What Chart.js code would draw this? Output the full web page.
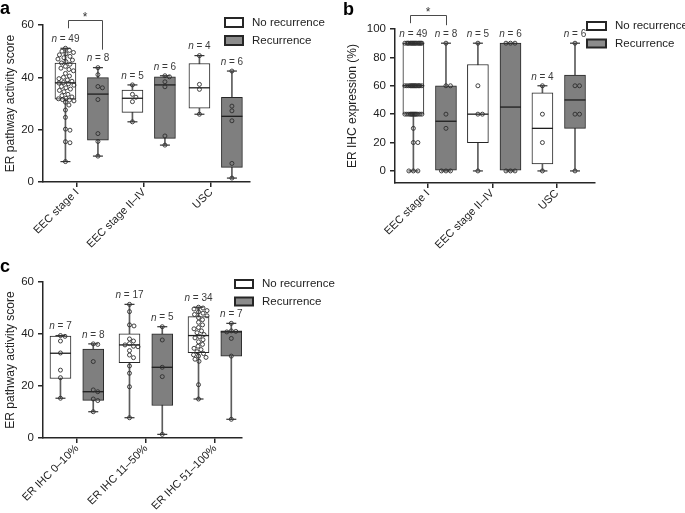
<!DOCTYPE html>
<html><head><meta charset="utf-8">
<script src="https://cdn.jsdelivr.net/npm/chart.js@4.4.1/dist/chart.umd.min.js"></script>
<style>
html,body{margin:0;padding:0;background:#fff;width:685px;height:513px;overflow:hidden;position:relative;}
canvas{position:absolute;}
</style></head><body>
<canvas id="ca" width="345" height="255" style="left:0;top:0"></canvas>
<canvas id="cb" width="345" height="262" style="left:340px;top:0"></canvas>
<canvas id="cc" width="345" height="258" style="left:0;top:255px"></canvas>
<script>
// ---------------- DATA ----------------
const seriesNames = ['No recurrence', 'Recurrence'];
const categoriesAB = ['EEC stage I', 'EEC stage II\u2013IV', 'USC'];
const categoriesC = ['ER IHC 0\u201310%', 'ER IHC 11\u201350%', 'ER IHC 51\u2013100%'];
const yTicksAC = [0, 20, 40, 60];
const yTicksB = [0, 20, 40, 60, 80, 100];
const yTitleAC = 'ER pathway activity score';
const yTitleB = 'ER IHC expression (%)';

// box stats per category: [min, q1, median, q3, max]
// Panel a
const boxA_noRec = [[7.8, 31.7, 37.9, 45.4, 51.1], [23.0, 26.6, 32.0, 35.1, 37.1], [25.9, 28.2, 36.0, 45.3, 48.3]];
const boxA_rec   = [[9.9, 16.0, 33.6, 39.9, 43.7], [14.1, 16.7, 37.1, 40.2, 40.6], [1.5, 5.6, 25.1, 32.4, 42.4]];
const nA_noRec = [49, 5, 4];
const nA_rec = [8, 6, 6];
const ptsA_noRec = [
  [51.1, 50.3, 50.0, 49.5, 49.0, 48.6, 48.0, 47.5, 47.0, 46.6, 46.0, 45.5,
   45.0, 44.2, 43.5, 43.0, 42.5, 41.5, 40.5, 40.0, 39.5, 39.0, 38.5, 38.0,
   37.8,
   37.5, 37.0, 36.5, 36.0, 35.5, 35.0, 34.5, 33.5, 33.0, 32.5, 32.0, 31.8,
   31.5, 31.3, 31.0, 30.5, 29.4, 27.5, 24.7, 20.2, 19.8, 15.4, 15.0, 7.8],
  [37.1, 33.5, 32.4, 30.7, 23.0],
  [48.3, 37.3, 35.4, 25.9]
];
const ptsA_rec = [
  [43.7, 41.0, 36.5, 36.0, 31.5, 18.5, 15.5, 9.9],
  [40.6, 40.2, 38.3, 36.4, 17.6, 14.1],
  [42.4, 29.0, 27.2, 23.4, 7.1, 1.5]
];

// Panel b
const boxB_noRec = [[0, 40, 60, 90, 90], [0, 20, 40, 75, 90], [0, 5, 30, 55, 60]];
const boxB_rec   = [[0, 0, 35, 60, 90], [0, 0, 45, 90, 90], [0, 30, 50, 67.5, 90]];
const nB_noRec = [49, 5, 4];
const nB_rec = [8, 6, 6];
const ptsB_noRec = [
  [90, 90, 90, 90, 90, 90, 90, 90, 90, 90, 90, 90, 90, 90, 90, 90,
   60, 60, 60, 60, 60, 60, 60, 60, 60, 60, 60, 60, 60, 60,
   40, 40, 40, 40, 40, 40, 40, 40, 40, 40, 40, 40, 40,
   30, 20, 20, 0, 0, 0],
  [90, 60, 40, 40, 0],
  [60, 40, 20, 0]
];
const ptsB_rec = [
  [90, 60, 60, 40, 30, 0, 0, 0],
  [90, 90, 90, 0, 0, 0],
  [90, 60, 60, 40, 40, 0]
];

// Panel c
const boxC_noRec = [[15.3, 22.9, 32.6, 39.2, 39.4], [7.8, 29.0, 35.8, 40.1, 51.4], [15.0, 32.8, 39.4, 46.7, 50.3]];
const boxC_rec   = [[10.1, 14.5, 17.8, 34.2, 36.2], [1.4, 12.5, 27.2, 40.1, 42.8], [7.2, 31.5, 40.8, 41.2, 44.1]];
const nC_noRec = [7, 17, 34];
const nC_rec = [8, 5, 7];
const ptsC_noRec = [
  [39.4, 39.1, 37.3, 32.7, 26.1, 23.2, 15.3],
  [51.4, 48.6, 43.5, 43.1, 38.1, 37.3, 36.3, 35.8, 35.3, 35.1, 33.6, 31.9, 30.9, 27.7, 24.9, 19.7, 7.8],
  [50.3, 50.0, 49.6, 49.0, 48.5, 48.0, 47.5, 47.0,
   46.3, 45.5, 44.5, 43.5, 42.5, 42.0, 41.2, 40.5, 39.8,
   39.0, 38.5, 37.8, 37.0, 36.0, 35.3, 34.5, 34.0, 33.2,
   32.5, 32.0, 31.5, 31.0, 30.3, 29.5, 20.5, 15.0]
];
const ptsC_rec = [
  [36.2, 36.0, 29.4, 18.5, 17.8, 15.0, 14.4, 10.1],
  [42.8, 37.7, 27.2, 23.6, 1.4],
  [44.1, 41.2, 41.0, 40.8, 38.3, 31.5, 7.2]
];

// ---------------- RENDERING ----------------
const FONT = "'Liberation Sans', Arial, Helvetica, sans-serif";
Chart.defaults.font.family = FONT;
Chart.defaults.color = '#222';
const FILLS = ['#ffffff', '#7f7f7f'];
const INK = '#262626';

const decor = {
  id: 'decor',
  afterDatasetsDraw(chart, args, o) {
    const ctx = chart.ctx, xs = chart.scales.x, ys = chart.scales.y;
    ctx.save();
    const labelY = (si, i) => ys.getPixelForValue(o.series[si].stats[i][4]) - 9;
    const cx = (si, i) => xs.getPixelForValue(i + 1 + o.offsets[si]);
    // n labels
    o.series.forEach((s, si) => {
      s.n.forEach((n, i) => {
        const x = cx(si, i), y = labelY(si, i);
        ctx.textBaseline = 'middle';
        ctx.fillStyle = '#3a3a3a';
        ctx.font = 'italic 10px ' + FONT;
        const w1 = ctx.measureText('n').width;
        ctx.font = '10px ' + FONT;
        const t2 = ' = ' + n;
        const w2 = ctx.measureText(t2).width;
        const x0 = x - (w1 + w2) / 2;
        ctx.textAlign = 'left';
        ctx.font = 'italic 10px ' + FONT;
        ctx.fillText('n', x0, y);
        ctx.font = '10px ' + FONT;
        ctx.fillText(t2, x0 + w1, y);
      });
    });
    // significance bracket
    if (o.sig) {
      const i = o.sig.cat;
      const x1 = cx(0, i) + o.sig.dx[0], x2 = cx(1, i) + o.sig.dx[1];
      const yL = labelY(0, i) - 11, yR = labelY(1, i) - 9;
      const top = Math.min(yL, yR) - 8;
      ctx.strokeStyle = '#4a4a4a';
      ctx.lineWidth = 1;
      ctx.beginPath();
      ctx.moveTo(Math.round(x1) + 0.5, yL);
      ctx.lineTo(Math.round(x1) + 0.5, Math.round(top) + 0.5);
      ctx.lineTo(Math.round(x2) + 0.5, Math.round(top) + 0.5);
      ctx.lineTo(Math.round(x2) + 0.5, yR);
      ctx.stroke();
      ctx.fillStyle = '#333';
      ctx.font = '12px ' + FONT;
      ctx.textAlign = 'center';
      ctx.textBaseline = 'alphabetic';
      ctx.fillText(o.sig.label, (x1 + x2) / 2, top + 1);
    }
    // legend
    const L = o.legend;
    seriesNames.forEach((name, si) => {
      const y = L.y + si * L.dy;
      ctx.fillStyle = FILLS[si] === '#ffffff' ? '#ffffff' : '#8c8c8c';
      ctx.fillRect(L.x, y, L.w, L.h);
      ctx.strokeStyle = INK;
      ctx.lineWidth = 2;
      ctx.strokeRect(L.x, y, L.w, L.h);
      ctx.fillStyle = '#222';
      ctx.font = '11.5px ' + FONT;
      ctx.textAlign = 'left';
      ctx.textBaseline = 'middle';
      ctx.fillText(name, L.x + L.w + 9, y + L.h / 2);
    });
    // panel letter
    ctx.fillStyle = '#000';
    ctx.font = 'bold 18px ' + FONT;
    ctx.textAlign = 'left';
    ctx.textBaseline = 'alphabetic';
    ctx.fillText(o.letter, o.letterPos[0], o.letterPos[1]);
    ctx.restore();
  }
};

function applyJitter(chart, maxOff) {
  const xs = chart.scales.x, ys = chart.scales.y;
  const ppx = xs.getPixelForValue(2) - xs.getPixelForValue(1);
  chart.data.datasets.forEach(d => {
    if (!d.isPoints) return;
    const groups = {};
    d.data.forEach(p => { (groups[p.bx] = groups[p.bx] || []).push(p); });
    Object.values(groups).forEach(g => {
      const placed = [];
      g.forEach(p => {
        const py = ys.getPixelForValue(p.y);
        let best = 0, bestScore = -1;
        for (let k = 0; k <= maxOff * 4; k++) {
          const o = (k % 2 ? 1 : -1) * Math.ceil(k / 2) * 0.5;
          let md = Infinity;
          placed.forEach(q => { md = Math.min(md, Math.hypot(o - q.o, py - q.py)); });
          if (md >= 4.4) { best = o; bestScore = Infinity; break; }
          if (md > bestScore) { bestScore = md; best = o; }
        }
        placed.push({ o: best, py });
        p.x = p.bx + best / ppx;
      });
    });
  });
  chart.update('none');
}

function buildPanel(id, P) {
  const canvas = document.getElementById(id);
  const W = canvas.width, H = canvas.height, A = P.area;
  const cats = P.categories;
  const ds = [];
  P.series.forEach((s, si) => {
    const px = i => i + 1 + P.offsets[si];
    ds.push({ type: 'bar', label: seriesNames[si] + ' range',
      data: s.stats.map((st, i) => ({ x: px(i), y: [st[0], st[4]] })),
      backgroundColor: '#5c5c5c', borderWidth: 0, barThickness: 1, maxBarThickness: 1,
      grouped: false, order: 6 });
    ds.push({ type: 'bar', label: seriesNames[si],
      data: s.stats.map((st, i) => ({ x: px(i), y: [st[1], st[3]] })),
      backgroundColor: FILLS[si], borderColor: INK, borderWidth: 1, borderSkipped: false,
      barThickness: 21, maxBarThickness: 21, grouped: false, order: 5 });
    ds.push({ type: 'scatter', label: 'median',
      data: s.stats.map((st, i) => ({ x: px(i), y: st[2] })),
      pointStyle: 'line', pointRadius: 10.5, pointBorderWidth: 1.3, pointBorderColor: '#1e1e1e',
      clip: false, order: 4 });
    ds.push({ type: 'scatter', label: 'caps',
      data: s.stats.flatMap((st, i) => [{ x: px(i), y: st[0] }, { x: px(i), y: st[4] }]),
      pointStyle: 'line', pointRadius: 5, pointBorderWidth: 1.2, pointBorderColor: '#333',
      clip: false, order: 3 });
    ds.push({ type: 'scatter', label: 'points', isPoints: true,
      data: s.points.flatMap((arr, i) => arr.map(v => ({ x: px(i), y: v, bx: px(i) }))),
      pointStyle: 'circle', pointRadius: 2, pointBorderWidth: 0.9, pointBorderColor: '#2e2e2e',
      pointBackgroundColor: 'rgba(0,0,0,0)', clip: false, order: 1 });
  });
  const axisGrid = { drawOnChartArea: false, drawTicks: true, tickLength: 5, color: INK, lineWidth: 1.5 };
  const axisBorder = { display: true, color: INK, width: 1.5 };
  const chart = new Chart(canvas, {
    type: 'bar',
    data: { datasets: ds },
    options: {
      responsive: false, animation: false, events: [],
      layout: { padding: { left: 0, top: A.top, right: W - A.right, bottom: 0 } },
      plugins: {
        legend: { display: false }, tooltip: { enabled: false },
        decor: { series: P.series, offsets: P.offsets, sig: P.sig, legend: P.legend, letter: P.letter, letterPos: P.letterPos }
      },
      scales: {
        x: { type: 'linear', min: P.xRange[0], max: P.xRange[1], offset: false,
          afterBuildTicks: sc => { sc.ticks = cats.map((c, i) => ({ value: i + 1 })); },
          afterFit: sc => { sc.height = H - A.bottom; },
          grid: Object.assign({ offset: false }, axisGrid), border: axisBorder,
          ticks: { autoSkip: false, minRotation: 45, maxRotation: 45, padding: -1,
            font: { size: 11 }, color: '#222', callback: v => cats[Math.round(v) - 1] } },
        y: { type: 'linear', min: P.yRange[0], max: P.yRange[1],
          afterBuildTicks: sc => { sc.ticks = P.yTicks.map(v => ({ value: v })); },
          afterFit: sc => { sc.width = A.left; },
          grid: axisGrid, border: axisBorder,
          ticks: { padding: 4, font: { size: 11.5 }, color: '#222' },
          title: { display: true, text: P.yTitle, font: { size: 12 }, color: '#222', padding: { top: P.titlePad, bottom: 0 } } }
      }
    },
    plugins: [decor]
  });
  applyJitter(chart, 8.5);
  return chart;
}

buildPanel('ca', {
  categories: categoriesAB, yTicks: yTicksAC, yTitle: yTitleAC, yRange: [0, 60], xRange: [0.49, 3.58],
  area: { left: 43, top: 25, right: 250, bottom: 182 }, offsets: [-0.175, 0.31], titlePad: 3,
  series: [{ stats: boxA_noRec, n: nA_noRec, points: ptsA_noRec }, { stats: boxA_rec, n: nA_rec, points: ptsA_rec }],
  sig: { cat: 0, label: '*', dx: [3, 4] },
  legend: { x: 225, y: 18, w: 18, h: 9, dy: 18 }, letter: 'a', letterPos: [0, 14]
});
buildPanel('cb', {
  categories: categoriesAB, yTicks: yTicksB, yTitle: yTitleB, yRange: [-8.5, 100], xRange: [0.49, 3.59],
  area: { left: 55, top: 29, right: 255, bottom: 183 }, offsets: [-0.225, 0.28], titlePad: 5,
  series: [{ stats: boxB_noRec, n: nB_noRec, points: ptsB_noRec }, { stats: boxB_rec, n: nB_rec, points: ptsB_rec }],
  sig: { cat: 0, label: '*', dx: [-3, 0] },
  legend: { x: 247, y: 22, w: 19, h: 8, dy: 17.5 }, letter: 'b', letterPos: [3, 15]
});
buildPanel('cc', {
  categories: categoriesC, yTicks: yTicksAC, yTitle: yTitleAC, yRange: [0, 60], xRange: [0.507, 3.39],
  area: { left: 43, top: 27, right: 242, bottom: 183 }, offsets: [-0.24, 0.235], titlePad: 3,
  series: [{ stats: boxC_noRec, n: nC_noRec, points: ptsC_noRec }, { stats: boxC_rec, n: nC_rec, points: ptsC_rec }],
  sig: null,
  legend: { x: 235, y: 25, w: 18, h: 8, dy: 17.5 }, letter: 'c', letterPos: [0, 17]
});
</script>
</body></html>
